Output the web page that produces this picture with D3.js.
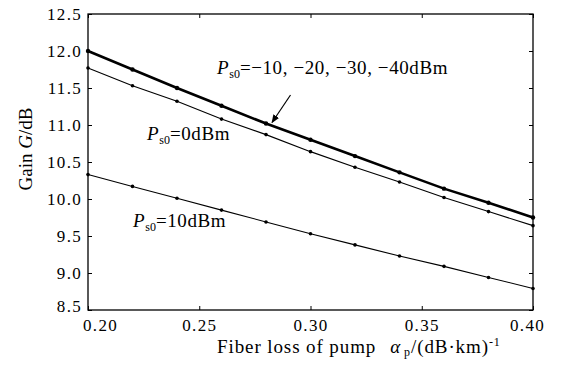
<!DOCTYPE html>
<html><head><meta charset="utf-8">
<script src="https://cdn.jsdelivr.net/npm/d3@7/dist/d3.min.js"></script>
<style>
body{margin:0;background:#fff;}
svg text{font-family:"Liberation Serif","Times New Roman",serif !important;fill:#000;}
</style></head>
<body><svg id="c" width="563" height="373"></svg>
<script>
const alpha = [0.20,0.22,0.24,0.26,0.28,0.30,0.32,0.34,0.36,0.38,0.40];
// Ps0 = -10,-20,-30,-40 dBm (curves overlap)
const gainLow = [12.00,11.75,11.50,11.26,11.02,10.80,10.58,10.36,10.14,9.95,9.75];
// Ps0 = 0 dBm
const gain0 = [11.77,11.53,11.32,11.08,10.87,10.64,10.43,10.23,10.02,9.83,9.64];
// Ps0 = 10 dBm
const gain10 = [10.33,10.17,10.01,9.85,9.69,9.53,9.38,9.23,9.09,8.94,8.79];
const xTicks = [0.20,0.25,0.30,0.35,0.40];
const yTicks = [8.5,9.0,9.5,10.0,10.5,11.0,11.5,12.0,12.5];

const svg = d3.select("#c");
const L=88, R=533, T=14, B=310;
const x = d3.scaleLinear().domain([0.20,0.40]).range([L,R]);
const y = d3.scaleLinear().domain([8.5,12.5]).range([B,T]);

svg.append("rect").attr("x",L).attr("y",T).attr("width",R-L).attr("height",B-T)
  .attr("fill","none").attr("stroke","#000").attr("stroke-width",1.3);

const tl=4;
const axB = svg.append("g").attr("transform",`translate(0,${B})`)
  .call(d3.axisBottom(x).tickValues(xTicks).tickFormat(d3.format(".2f")).tickSizeInner(-tl).tickSizeOuter(0).tickPadding(9));
const axT = svg.append("g").attr("transform",`translate(0,${T})`)
  .call(d3.axisTop(x).tickValues(xTicks).tickFormat("").tickSizeInner(-tl).tickSizeOuter(0));
const axL = svg.append("g").attr("transform",`translate(${L},0)`)
  .call(d3.axisLeft(y).tickValues(yTicks).tickFormat(d3.format(".1f")).tickSizeInner(-tl).tickSizeOuter(0).tickPadding(6));
const axR = svg.append("g").attr("transform",`translate(${R},0)`)
  .call(d3.axisRight(y).tickValues(yTicks).tickFormat("").tickSizeInner(-tl).tickSizeOuter(0));
[axB,axT,axL,axR].forEach(a=>{a.select(".domain").remove();a.selectAll("line").attr("stroke","#000");a.attr("font-family",null);});
axB.selectAll("text").attr("font-size",17).attr("letter-spacing",1.3);
axL.selectAll("text").attr("font-size",17).attr("letter-spacing",1.3);
axB.selectAll(".tick").filter(d=>d===0.20).select("text").attr("dx",12);
axB.selectAll(".tick").filter(d=>d===0.40).select("text").attr("dx",-6);
axL.selectAll(".tick").filter(d=>d===8.5).select("text").attr("dy","0.1em");

const line = d3.line().x((d,i)=>x(alpha[i])).y(d=>y(d));
const series = [{v:gainLow,w:2.6,r:2.2},{v:gain0,w:1.1,r:1.8},{v:gain10,w:1.1,r:1.8}];
series.forEach(s=>{
  svg.append("path").datum(s.v).attr("d",line).attr("fill","none").attr("stroke","#000").attr("stroke-width",s.w);
  svg.append("g").selectAll("circle").data(s.v).join("circle")
    .attr("cx",(d,i)=>x(alpha[i])).attr("cy",d=>y(d)).attr("r",s.r).attr("fill","#000");
});

function psLabel(px,py,rest){
  const t = svg.append("text").attr("x",px).attr("y",py).attr("font-size",19).attr("letter-spacing",0.6);
  t.append("tspan").attr("font-style","italic").text("P");
  t.append("tspan").attr("font-size",12).attr("dy",4).attr("letter-spacing",0).text("s0");
  t.append("tspan").attr("dy",-4).text(rest);
  return t;
}
psLabel(217,74,"=\u221210, \u221220, \u221230, \u221240dBm");
psLabel(147,140,"=0dBm");
psLabel(133,227,"=10dBm");

svg.append("defs").append("marker").attr("id","ah").attr("viewBox","0 0 10 10")
  .attr("refX",9).attr("refY",5).attr("markerWidth",7).attr("markerHeight",7).attr("orient","auto")
  .append("path").attr("d","M0,1 L10,5 L0,9 z").attr("fill","#000");
svg.append("line").attr("x1",x(0.3)-20).attr("y1",y(11.0)-30).attr("x2",x(0.28)+6).attr("y2",y(11.02)-1)
  .attr("stroke","#000").attr("stroke-width",1.2).attr("marker-end","url(#ah)");

const xt = svg.append("text").attr("x",217).attr("y",353).attr("font-size",19).attr("letter-spacing",0.9);
xt.append("tspan").text("Fiber loss of pump");
xt.append("tspan").attr("dx",14).attr("font-style","italic").text("\u03b1");
xt.append("tspan").attr("font-size",12).attr("dx",3).attr("dy",3).text("p");
xt.append("tspan").attr("dy",-3).text("/(dB\u00b7km)");
xt.append("tspan").attr("font-size",12).attr("dy",-7).text("-1");

const yt = svg.append("text").attr("transform",`translate(32,149) rotate(-90)`).attr("text-anchor","middle").attr("font-size",19);
yt.append("tspan").text("Gain ");
yt.append("tspan").attr("font-style","italic").text("G");
yt.append("tspan").text("/dB");
</script></body></html>
